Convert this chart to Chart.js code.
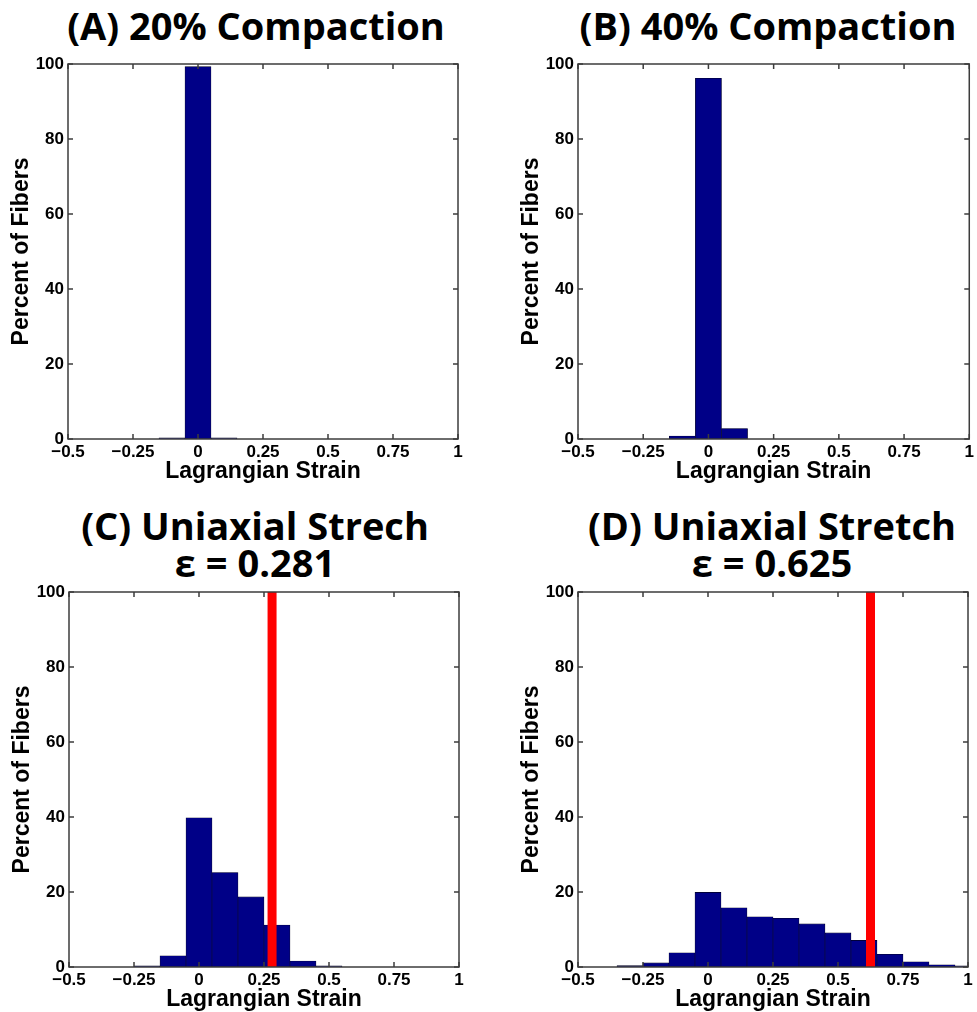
<!DOCTYPE html>
<html>
<head>
<meta charset="utf-8">
<script src="https://cdn.jsdelivr.net/npm/chart.js@4/dist/chart.umd.min.js"></script>
<style>
  body { margin: 0; background: #fff; width: 977px; height: 1012px; position: relative; overflow: hidden; }
  canvas { position: absolute; }
  .title { position: absolute; width: 480px; text-align: center; font: 700 38px "Open Sans", sans-serif; line-height: 37px; color: #000; white-space: nowrap; }
</style>
</head>
<body>
<div class="title" style="left:16px; top:7px;">(A) 20% Compaction</div>
<div class="title" style="left:528px; top:7px;">(B) 40% Compaction</div>
<div class="title" style="left:15px; top:507px;">(C) Uniaxial Strech<br>ε = 0.281</div>
<div class="title" style="left:532px; top:507px;">(D) Uniaxial Stretch<br>ε = 0.625</div>
<canvas id="chartA"></canvas>
<canvas id="chartB"></canvas>
<canvas id="chartC"></canvas>
<canvas id="chartD"></canvas>
<script>
// histogram bins (centres, width 0.1)
var binCenters = [-0.3, -0.2, -0.1, 0, 0.1, 0.2, 0.3, 0.4, 0.5, 0.6, 0.7, 0.8, 0.9, 1.0];
// percent of fibers per bin, null = empty bin
var pctA = [null, null, 0.3, 99.3, 0.3, null, null, null, null, null, null, null, null, null];
var pctB = [null, null, 0.8, 96.2, 2.8, null, null, null, null, null, null, null, null, null];
var pctC = [null, 0.3, 3.0, 39.8, 25.2, 18.7, 11.2, 1.6, 0.3, null, null, null, null, null];
var pctD = [0.35, 1.1, 3.8, 19.9, 15.8, 13.4, 13.0, 11.5, 9.1, 7.1, 3.4, 1.4, 0.6, 0.3];
// applied strain marker (red line)
var strainC = 0.281;
var strainD = 0.625;
var xTicks = [-0.5, -0.25, 0, 0.25, 0.5, 0.75, 1];
var yTicks = [0, 20, 40, 60, 80, 100];

//box round the axes with inward ticks on all four sides
var boxTicks = {
	id: 'boxTicks',
	afterDatasetsDraw: function(chart) {
		var ctx = chart.ctx, a = chart.chartArea, x = chart.scales.x, y = chart.scales.y;
		ctx.save();
		ctx.strokeStyle = '#3c3c3c';
		ctx.lineWidth = 1.5;
		ctx.strokeRect(a.left, a.top, a.right - a.left, a.bottom - a.top);
		ctx.beginPath();
		xTicks.forEach(function(v) {
			var px = x.getPixelForValue(v);
			ctx.moveTo(px, a.bottom); ctx.lineTo(px, a.bottom - 5);
			ctx.moveTo(px, a.top); ctx.lineTo(px, a.top + 5);
		});
		yTicks.forEach(function(v) {
			var py = y.getPixelForValue(v);
			ctx.moveTo(a.left, py); ctx.lineTo(a.left + 5, py);
			ctx.moveTo(a.right, py); ctx.lineTo(a.right - 5, py);
		});
		ctx.stroke();
		ctx.restore();
	}
};

function makeChart(id, pos, values, strain) {
	var el = document.getElementById(id);
	el.style.left = pos.left + 'px';
	el.style.top = pos.top + 'px';
	el.width = pos.width;
	el.height = pos.height;
	var datasets = [{
		type: 'bar',
		order: 1,
		data: binCenters.map(function(c, i) { return {x: c, y: values[i]}; }),
		backgroundColor: '#000087',
		borderColor: '#000020',
		borderWidth: 0.6,
		borderSkipped: false,
		barPercentage: 1,
		categoryPercentage: 1
	}];
	if (strain !== null) {
		datasets.push({
			type: 'line',
			order: 0,
			data: [{x: strain, y: 0}, {x: strain, y: 100}],
			borderColor: '#ff0000',
			borderWidth: 9,
			pointRadius: 0
		});
	}
	return new Chart(el, {
		type: 'bar',
		data: { datasets: datasets },
		plugins: [boxTicks],
		options: {
			responsive: false,
			animation: false,
			layout: { padding: { top: 24, right: pos.padRight, left: 0, bottom: 0 } },
			plugins: { legend: { display: false }, tooltip: { enabled: false } },
			scales: {
				x: {
					type: 'linear',
					offset: false,
					min: -0.5, max: 1,
					afterFit: function(s) { s.height = 48; },
					afterBuildTicks: function(s) { s.ticks = xTicks.map(function(v) { return {value: v}; }); },
					grid: { display: false, drawTicks: false },
					border: { display: false },
					ticks: {
						padding: 3, maxRotation: 0, autoSkip: false, color: '#000',
						font: { family: 'Liberation Sans', weight: 'bold', size: 17 },
						callback: function(v) { return (v < 0 ? '\u2212' : '') + Math.abs(v); }
					},
					title: {
						display: true, text: 'Lagrangian Strain', color: '#000',
						padding: { top: 0, bottom: 2 },
						font: { family: 'Liberation Sans', weight: 'bold', size: 23 }
					}
				},
				y: {
					min: 0, max: 100,
					afterFit: function(s) { s.width = 68; },
					afterBuildTicks: function(s) { s.ticks = yTicks.map(function(v) { return {value: v}; }); },
					grid: { display: false, drawTicks: false },
					border: { display: false },
					ticks: {
						padding: 4, color: '#000',
						font: { family: 'Liberation Sans', weight: 'bold', size: 17 }
					},
					title: {
						display: true, text: 'Percent of Fibers', color: '#000',
						padding: { top: 8, bottom: 0 },
						font: { family: 'Liberation Sans', weight: 'bold', size: 23 }
					}
				}
			}
		}
	});
}

makeChart('chartA', {left: 0, top: 40, width: 468, height: 447, padRight: 10}, pctA, null);
makeChart('chartB', {left: 510, top: 40, width: 467, height: 447, padRight: 6}, pctB, null);
makeChart('chartC', {left: 1, top: 568, width: 468, height: 447, padRight: 10}, pctC, strainC);
makeChart('chartD', {left: 510, top: 568, width: 467, height: 447, padRight: 9}, pctD, strainD);
</script>
</body>
</html>
